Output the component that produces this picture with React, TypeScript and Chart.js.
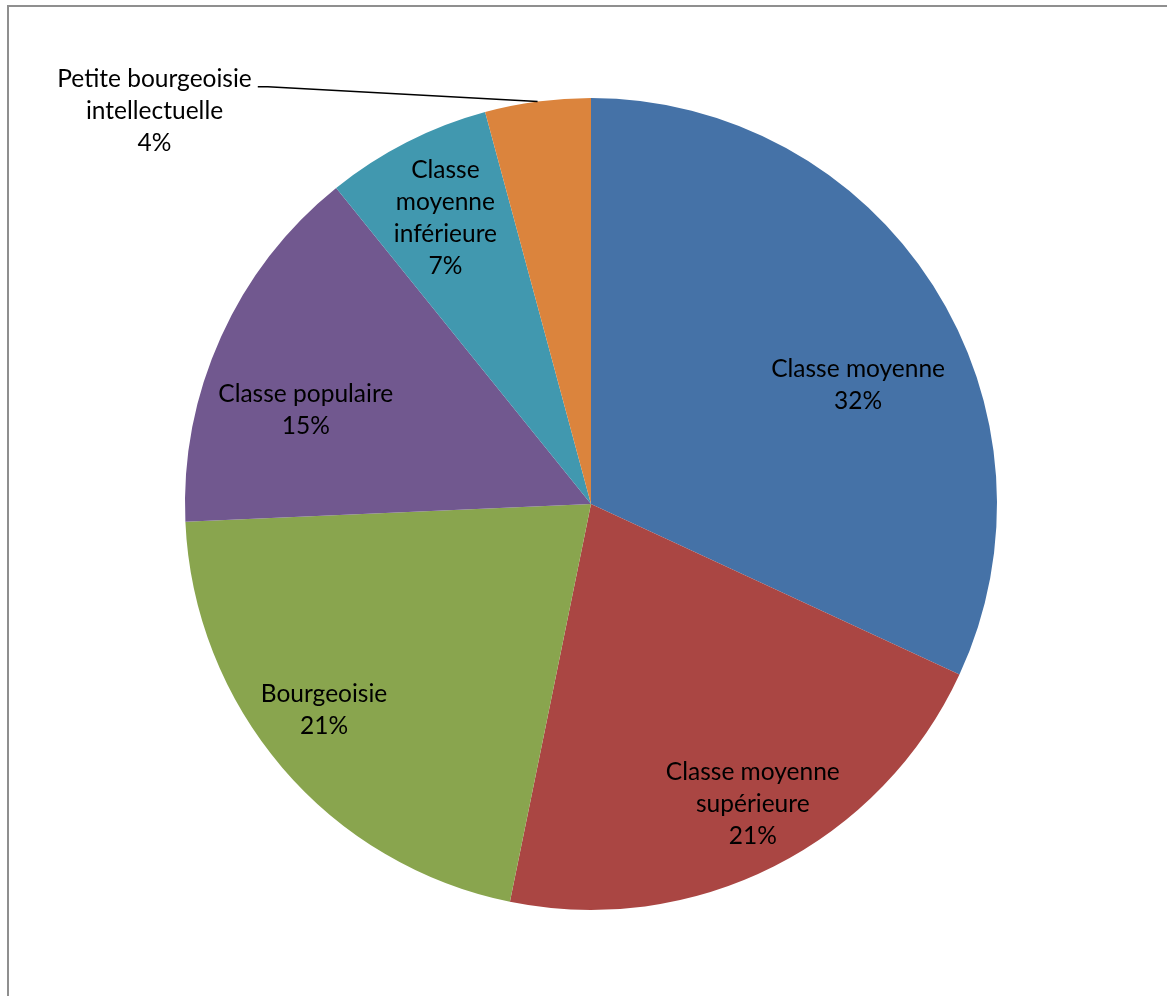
import React, { useEffect, useRef } from "react";
import { Chart, registerables } from "chart.js";

Chart.register(...registerables);

// ---- Data ----
const categories: string[] = [
  "Classe moyenne",
  "Classe moyenne supérieure",
  "Bourgeoisie",
  "Classe populaire",
  "Classe moyenne inférieure",
  "Petite bourgeoisie intellectuelle",
];
// how each category name is broken into lines on the chart
const labelLines: string[][] = [
  ["Classe moyenne"],
  ["Classe moyenne", "supérieure"],
  ["Bourgeoisie"],
  ["Classe populaire"],
  ["Classe", "moyenne", "inférieure"],
  ["Petite bourgeoisie", "intellectuelle"],
];
const values: number[] = [31.9, 21.3, 21.1, 14.9, 6.6, 4.2];
const colors: string[] = ["#4572A7", "#AA4643", "#89A54E", "#71588F", "#4198AF", "#DB843D"];

// label placement (style/layout, not data): radius fraction & angle offset (deg)
const labelPlacement = [
  { r: 0.72, da: 8.6 },
  { r: 0.84, da: -1.5 },
  { r: 0.83, da: 2.9 },
  { r: 0.74, da: -6 },
  { r: 0.79, da: 0 },
  { r: 1.3, da: -30.2, outside: true },
];

const FONT = "24.5px Lato";
const LINE_H = 32;

const framePlugin = {
  id: "frame",
  beforeDraw(chart: any) {
    const ctx = chart.ctx;
    ctx.save();
    ctx.fillStyle = "#ffffff";
    ctx.fillRect(0, 0, chart.width, chart.height);
    ctx.strokeStyle = "#8f8f8f";
    ctx.lineWidth = 2;
    ctx.beginPath();
    ctx.moveTo(8, chart.height + 2);
    ctx.lineTo(8, 6);
    ctx.lineTo(chart.width + 2, 6);
    ctx.stroke();
    ctx.restore();
  },
};

const labelPlugin = {
  id: "sliceLabels",
  afterDatasetsDraw(chart: any) {
    const ctx = chart.ctx;
    const meta = chart.getDatasetMeta(0);
    const data = chart.data.datasets[0].data as number[];
    const total = data.reduce((a, b) => a + b, 0);
    ctx.save();
    ctx.font = FONT;
    ctx.fillStyle = "#000000";
    ctx.textAlign = "center";
    ctx.textBaseline = "middle";
    meta.data.forEach((arc: any, i: number) => {
      const p = arc.getProps(["x", "y", "startAngle", "endAngle", "outerRadius"], true);
      const mid = (p.startAngle + p.endAngle) / 2;
      const pl = labelPlacement[i];
      const lines = [...labelLines[i], Math.round((data[i] / total) * 100) + "%"];
      if (!pl.outside) {
        const a = mid + (pl.da * Math.PI) / 180;
        const cx = p.x + Math.cos(a) * p.outerRadius * pl.r;
        const cy = p.y + Math.sin(a) * p.outerRadius * pl.r;
        const y0 = cy - ((lines.length - 1) * LINE_H) / 2;
        lines.forEach((l, k) => ctx.fillText(l, cx, y0 + k * LINE_H));
      } else {
        const sx = p.x + Math.cos(mid) * p.outerRadius;
        const sy = p.y + Math.sin(mid) * p.outerRadius;
        const a = mid + (pl.da * Math.PI) / 180;
        const ex = p.x + Math.cos(a) * p.outerRadius * pl.r;
        const ey = p.y + Math.sin(a) * p.outerRadius * pl.r;
        ctx.strokeStyle = "#000000";
        ctx.lineWidth = 1.5;
        ctx.beginPath();
        ctx.moveTo(sx, sy);
        ctx.lineTo(ex, ey);
        ctx.lineTo(ex - 10, ey);
        ctx.stroke();
        const widest = Math.max(...lines.map((l) => ctx.measureText(l).width));
        const cx = ex - 16 - widest / 2;
        const y0 = ey - 8;
        lines.forEach((l, k) => ctx.fillText(l, cx, y0 + k * LINE_H));
      }
    });
    ctx.restore();
  },
};

export default function App() {
  const ref = useRef<HTMLCanvasElement | null>(null);
  useEffect(() => {
    if (!ref.current) return;
    const chart = new Chart(ref.current, {
      type: "pie",
      data: {
        labels: categories,
        datasets: [
          {
            data: values,
            backgroundColor: colors,
            borderWidth: 0,
          },
        ],
      },
      options: {
        responsive: false,
        animation: false,
        devicePixelRatio: 1,
        layout: { padding: { top: 98, bottom: 86, left: 185, right: 170 } },
        plugins: {
          legend: { display: false },
          tooltip: { enabled: false },
        },
      },
      plugins: [framePlugin, labelPlugin],
    });
    return () => chart.destroy();
  }, []);
  return (
    <div style={{ position: "absolute", left: 0, top: 0, width: 1167, height: 996, overflow: "hidden" }}>
      <canvas ref={ref} width={1167} height={996} style={{ display: "block" }} />
    </div>
  );
}
